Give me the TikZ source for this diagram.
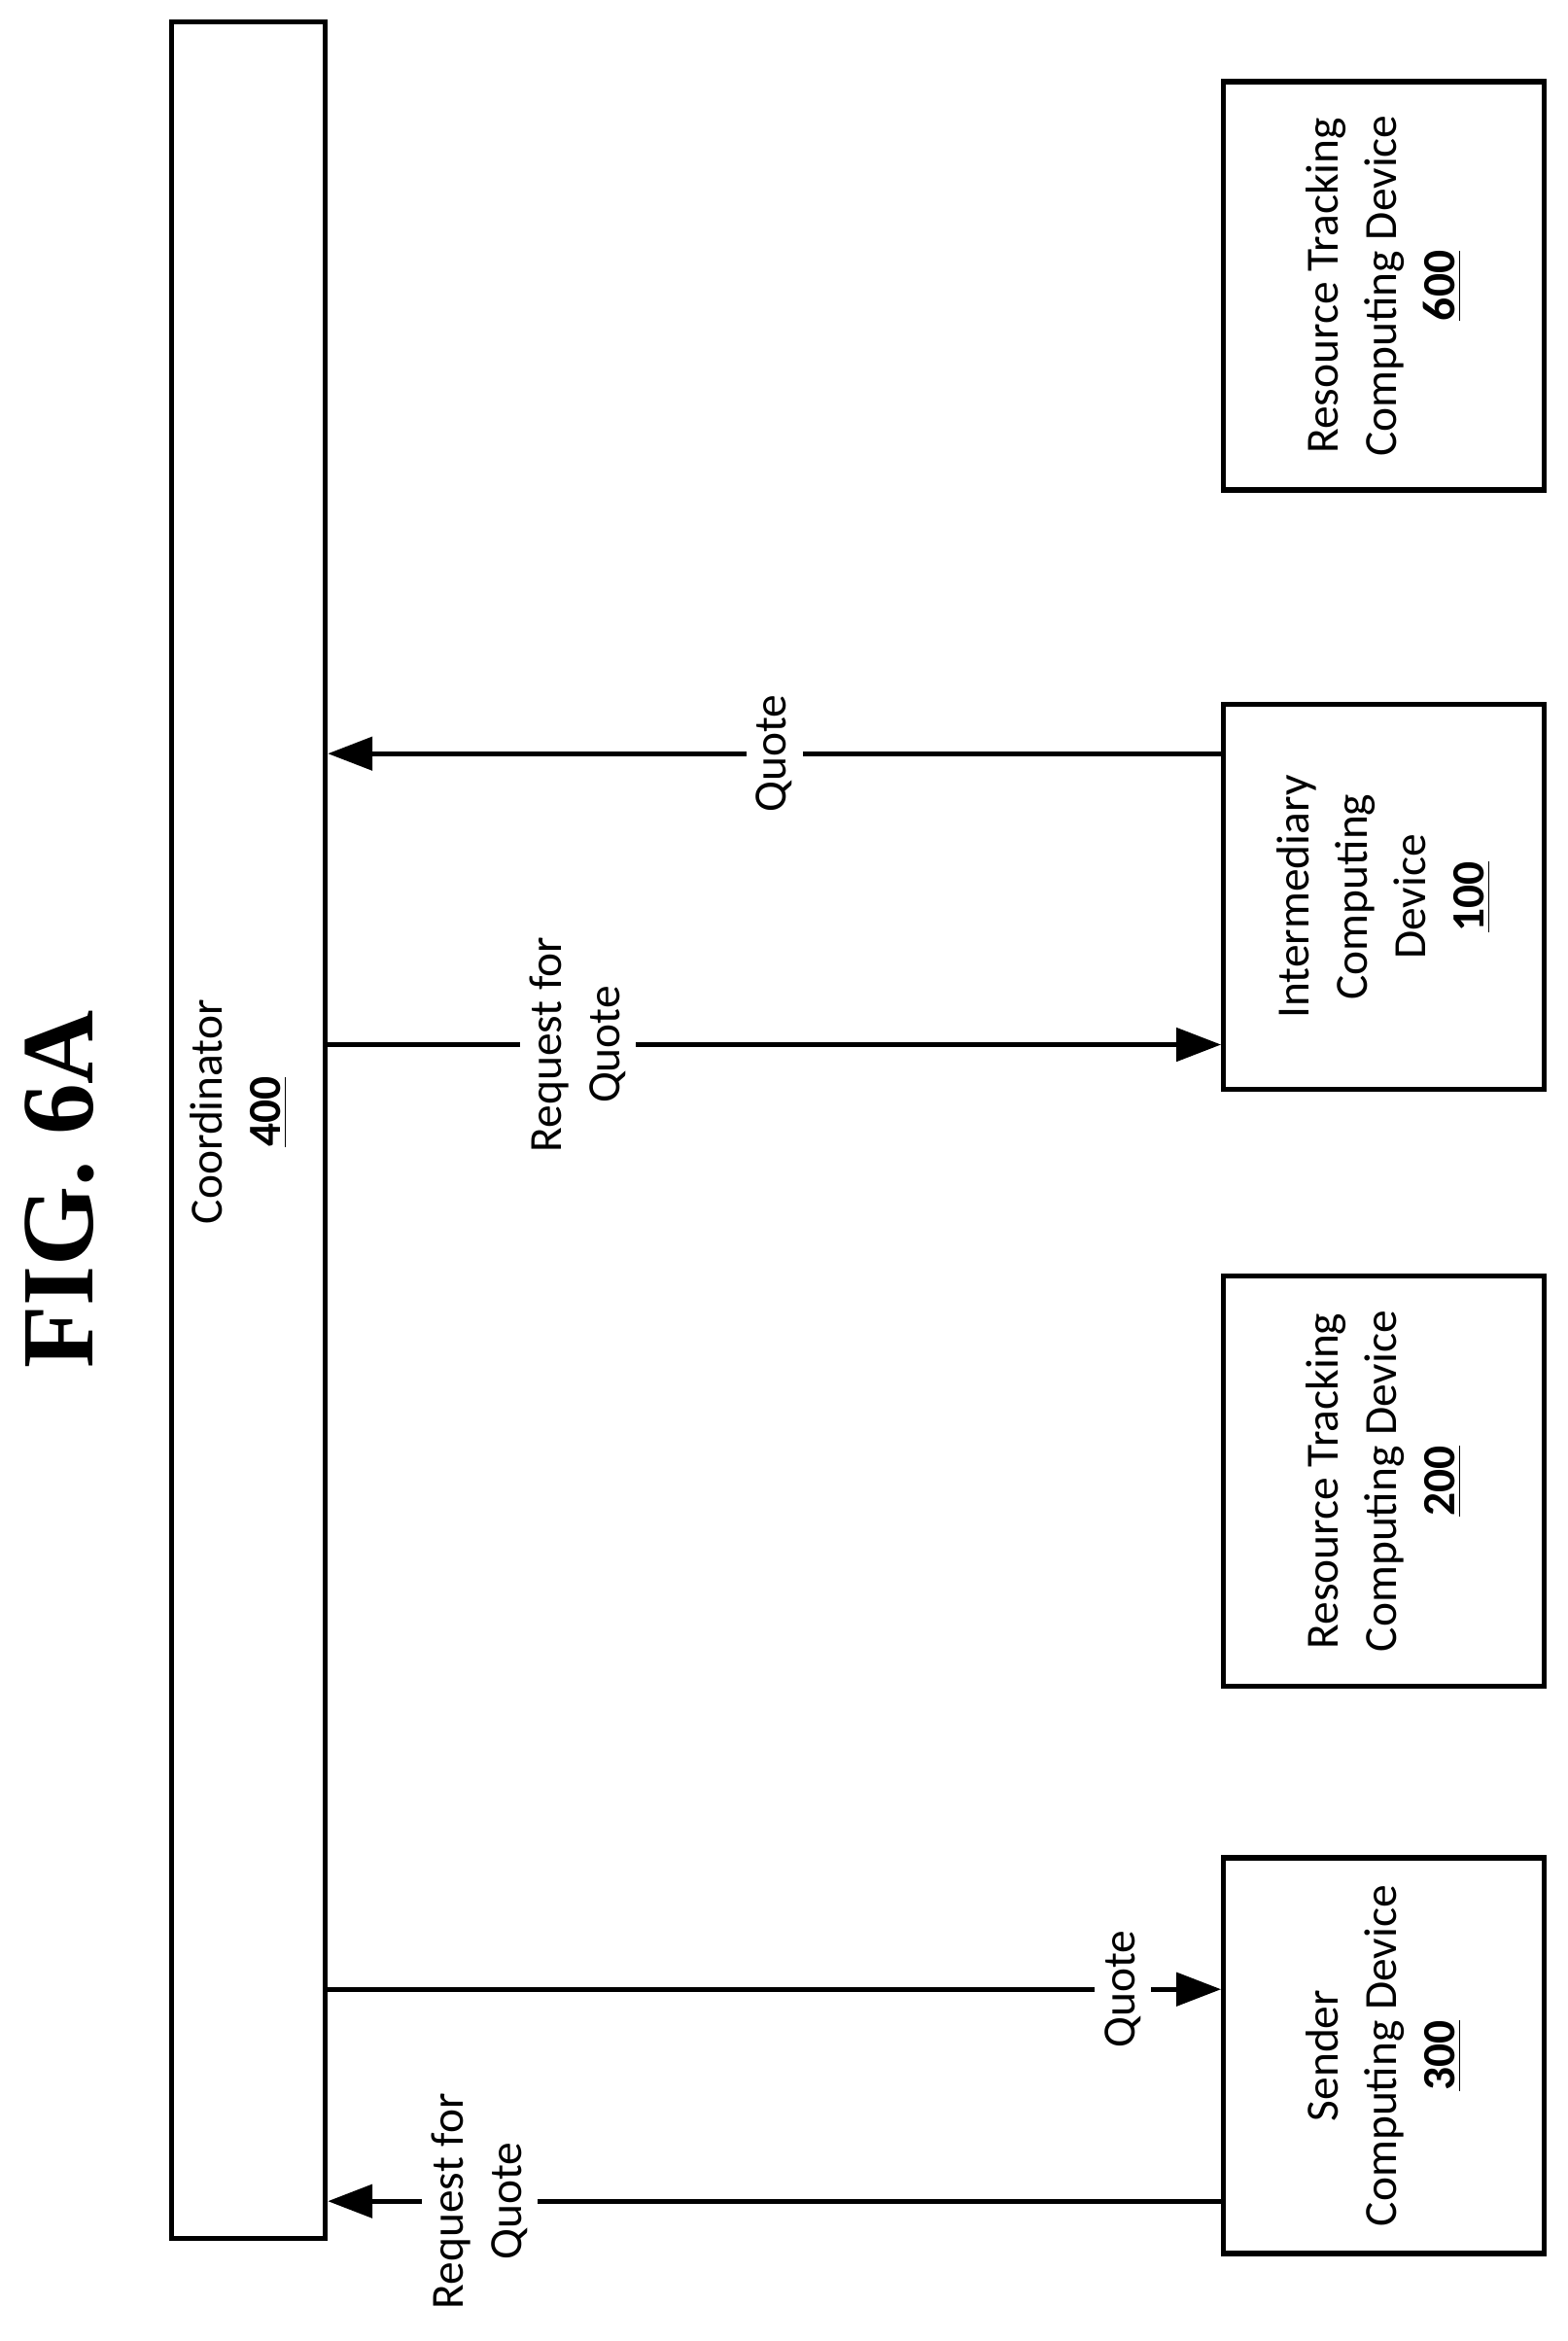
\documentclass[tikz,border=0pt]{standalone}
\usepackage{fontspec}
\setmainfont{Carlito}
\newfontfamily\figfont{Liberation Serif}
\usetikzlibrary{arrows.meta,positioning}
\tikzset{
  dev/.style={draw,line width=1.5pt,rectangle,minimum width=33mm,minimum height=#1,inner sep=0pt},
  lbl/.style={rotate=90,align=center,font=\fontsize{13.5}{17}\selectfont},
  msg/.style={line width=1.4pt,-{Triangle[length=4.6mm,width=3.4mm]}},
  tag/.style={lbl,fill=white,inner sep=3pt}
}
\newcommand{\num}[1]{\underline{\textbf{#1}}}
\begin{document}
\begin{tikzpicture}[x=0.1535mm,y=-0.1535mm]
  \useasboundingbox (0,0) rectangle (1050.2,1568.7);
  \node[font=\figfont\fontsize{30}{32}\selectfont\bfseries,rotate=90] (fig) at (40,797) {FIG. 6A};
  \node[draw,line width=1.5pt,minimum width=15.8mm,minimum height=228mm,inner sep=0pt] (coord) at (166.5,757.5) {};
  \node[lbl] at (160,745) {Coordinator\\\num{400}};
  % devices
  \node[dev=42mm] (d600) at (927.5,191.5) {};
  \node[lbl] at (d600) {Resource Tracking\\Computing Device\\\num{600}};
  \node[dev=39.6mm] (d100) at (927.5,601) {};
  \node[lbl] at (d100) {Intermediary\\Computing\\Device\\\num{100}};
  \node[dev=42.2mm] (d200) at (927.5,992.5) {};
  \node[lbl] at (d200) {Resource Tracking\\Computing Device\\\num{200}};
  \node[dev=40.7mm] (d300) at (927.5,1377.5) {};
  \node[lbl] at (d300) {Sender\\Computing Device\\\num{300}};
  % message rows
  \coordinate (q1) at (0,505);
  \coordinate (r1) at (0,700);
  \coordinate (q3) at (0,1333);
  \coordinate (r3) at (0,1475);
  \draw[msg] (d100.west |- q1) -- node[tag,pos=0.5] {Quote} (coord.east |- q1);
  \draw[msg] (coord.east |- r1) -- node[tag,pos=0.28] {Request for\\Quote} (d100.west |- r1);
  \draw[msg] (coord.east |- q3) -- node[tag,pos=0.89] {Quote} (d300.west |- q3);
  \draw[msg] (d300.west |- r3) -- node[tag,pos=0.83] {Request for\\Quote} (coord.east |- r3);
\end{tikzpicture}
\end{document}
